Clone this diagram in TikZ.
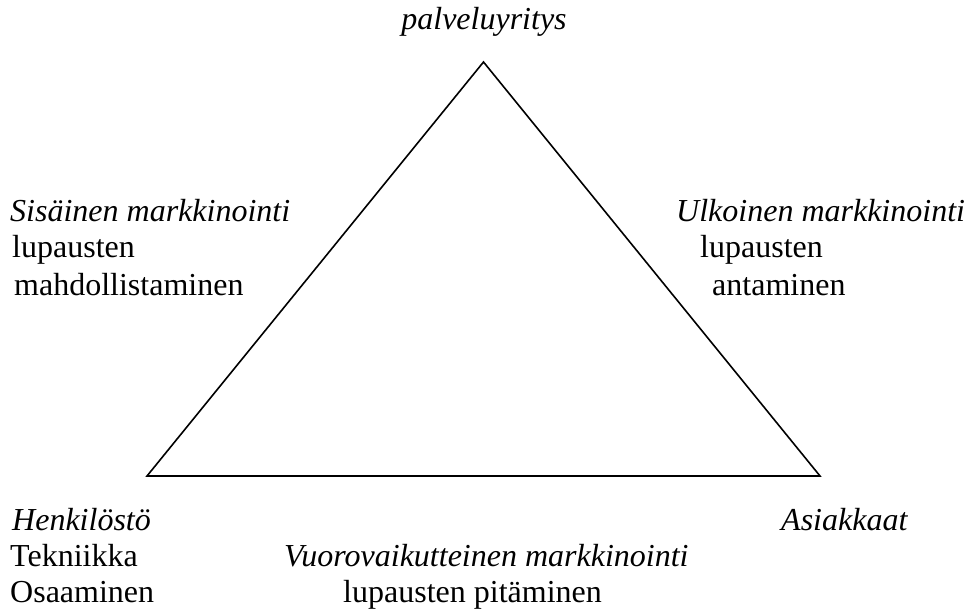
\documentclass[tikz,border=0pt]{standalone}
\usepackage{fontspec}
\setmainfont{Liberation Serif}
\begin{document}
\begin{tikzpicture}[x=1bp,y=-1bp,
  lbl/.style={inner sep=0pt,anchor=base west,font=\fontsize{32bp}{37bp}\selectfont},
  ilbl/.style={lbl,font=\fontsize{32bp}{37bp}\selectfont\itshape},
  edge/.style={line width=1.6bp,line join=miter}]
\useasboundingbox (0,0) rectangle (969,613);

% corners of the service triangle
\coordinate (apex) at (483.5,62);
\coordinate (left) at (147,476);
\coordinate (right) at (820,476);
\draw[edge] (apex) -- (left) -- (right) -- cycle;

% top
\node[ilbl,anchor=base] (firm) at (484,30) {palveluyritys};

% left side: internal marketing
\node[ilbl] (intT) at (10,222) {Sisäinen markkinointi};
\node[lbl]  (intA) at (12,258) {lupausten};
\node[lbl]  (intB) at (14,295) {mahdollistaminen};

% right side: external marketing
\node[ilbl] (extT) at (676,222) {Ulkoinen markkinointi};
\node[lbl]  (extA) at (700,258) {lupausten};
\node[lbl]  (extB) at (712,295) {antaminen};

% bottom left corner
\node[ilbl] (staff) at (12,530) {Henkilöstö};
\node[lbl]  (tech)  at (10,566) {Tekniikka};
\node[lbl]  (skill) at (10,602) {Osaaminen};

% bottom right corner
\node[ilbl] (cust) at (781,530) {Asiakkaat};

% bottom edge: interactive marketing
\node[ilbl] (inter) at (284,566) {Vuorovaikutteinen markkinointi};
\node[lbl]  (keep)  at (343,602) {lupausten pitäminen};
\end{tikzpicture}
\end{document}
